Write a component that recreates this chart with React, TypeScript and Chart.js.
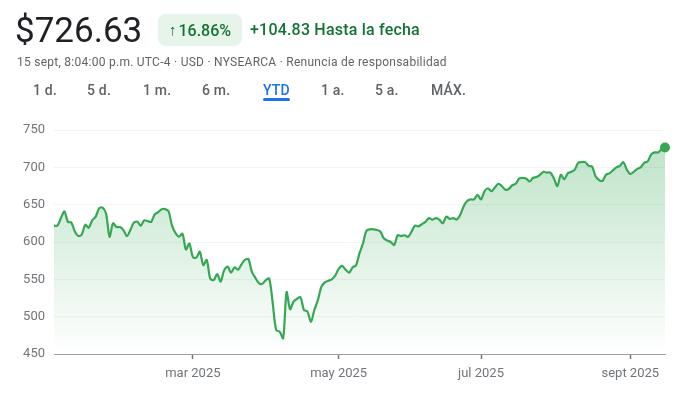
import React, { useEffect, useRef } from "react";
import { Chart, registerables } from "chart.js";

Chart.register(...registerables);

// Daily closes, YTD 2025 (index 0 = previous close)
const closes: number[] = [
  621.8, 622, 632, 641, 627, 626, 614, 608, 610, 623,
  619, 629, 634, 645, 646, 638, 607, 625, 620, 620,
  616, 608, 616, 626, 627, 622, 629, 628, 627, 637,
  640, 644, 644, 641, 622, 612, 607, 611, 590, 598,
  580, 579, 587, 569, 576, 551, 549, 557, 547, 562,
  567, 559, 566, 563, 570, 576, 577, 560, 552, 545,
  544, 549, 551, 518, 482, 480, 471, 533, 510, 520,
  524, 526, 509, 507, 493, 509, 522, 540, 546, 548,
  550, 555, 564, 568, 563, 559, 566, 569, 585, 598,
  615, 617, 617, 616, 614, 605, 602, 600, 596, 609,
  608, 609, 607, 614, 622, 621, 624, 627, 632, 630,
  632, 630, 625, 634, 631, 632, 630, 636, 648, 655,
  657, 657, 663, 657, 668, 672, 668, 673, 678, 675,
  670, 671, 676, 678, 685, 686, 685, 681, 686, 687,
  690, 694, 693, 693, 685, 675, 690, 684, 692, 694,
  697, 706, 707, 707, 702, 701, 688, 683, 682, 690,
  692, 696, 700, 702, 707, 697, 691, 694, 698, 700,
  706, 708, 717, 720, 720, 724, 726.63,
];

const monthTickIndex: number[] = [40, 82, 123, 166];
const monthTickLabels: string[] = ["mar 2025", "may 2025", "jul 2025", "sept 2025"];
const yTicks: number[] = [450, 500, 550, 600, 650, 700, 750];

const priceText = "$726.63";
const changePctText = "16.86%";
const changeAbsText = "+104.83 Hasta la fecha";
const subtitleText = "15 sept, 8:04:00 p.m. UTC-4 · USD · NYSEARCA · Renuncia de responsabilidad";
const tabs: string[] = ["1 d.", "5 d.", "1 m.", "6 m.", "YTD", "1 a.", "5 a.", "MÁX."];
const tabLeft: number[] = [33, 87, 143, 202, 263, 321, 375, 431];
const activeTab = "YTD";

const FONT = "Roboto, 'Noto Sans', Arial, sans-serif";
const GREEN = "#34a853";

export default function App() {
  const canvasRef = useRef<HTMLCanvasElement | null>(null);

  useEffect(() => {
    document.body.style.margin = "0";
    const canvas = canvasRef.current;
    if (!canvas) return;
    const data = closes.map((v, i) => ({ x: i, y: v }));
    const last = closes.length - 1;
    const chart = new Chart(canvas, {
      type: "line",
      data: {
        datasets: [
          {
            data,
            borderColor: GREEN,
            borderWidth: 2.2,
            tension: 0.3,
            fill: "start",
            clip: false as any,
            backgroundColor: (ctx: any) => {
              const ch = ctx.chart;
              const area = ch.chartArea;
              if (!area) return "rgba(52,168,83,0.2)";
              const g = ch.ctx.createLinearGradient(0, area.top, 0, area.bottom);
              g.addColorStop(0, "rgba(52,168,83,0.34)");
              g.addColorStop(1, "rgba(52,168,83,0)");
              return g;
            },
            pointRadius: (ctx: any) => (ctx.dataIndex === last ? 5 : 0),
            pointBackgroundColor: GREEN,
            pointBorderColor: GREEN,
            pointBorderWidth: 0,
          },
        ],
      },
      options: {
        responsive: false,
        animation: false,
        layout: { padding: { left: 0, right: 33, top: 130, bottom: 0 } },
        plugins: { legend: { display: false }, tooltip: { enabled: false } },
        scales: {
          x: {
            type: "linear",
            min: 0,
            max: last,
            afterBuildTicks: (s: any) => {
              s.ticks = monthTickIndex.map((v) => ({ value: v }));
            },
            afterFit: (s: any) => {
              s.height = 41;
            },
            ticks: {
              autoSkip: false,
              maxRotation: 0,
              padding: 7,
              color: "#70757a",
              font: { family: FONT, size: 13 },
              callback: (v: any) => {
                const k = monthTickIndex.indexOf(Number(v));
                return k >= 0 ? monthTickLabels[k] : "";
              },
            },
            grid: {
              drawOnChartArea: false,
              drawTicks: true,
              tickLength: 5,
              tickWidth: 1.5,
              tickColor: "#70757a",
            },
            border: { display: true, color: "#9aa0a6", width: 1 },
          },
          y: {
            min: 450,
            max: 750,
            afterBuildTicks: (s: any) => {
              s.ticks = yTicks.map((v) => ({ value: v }));
            },
            afterFit: (s: any) => {
              s.width = 54;
            },
            ticks: {
              padding: 9,
              color: "#70757a",
              font: { family: FONT, size: 13 },
            },
            grid: { color: "#f1f3f4", drawTicks: false, lineWidth: 1 },
            border: { display: false },
          },
        },
      },
    } as any);
    return () => chart.destroy();
  }, []);

  return (
    <div style={{ position: "fixed", left: 0, top: 0, width: 698, height: 395, background: "#fff", fontFamily: FONT, overflow: "hidden" }}>
      <canvas ref={canvasRef} width={698} height={395} style={{ position: "absolute", left: 0, top: 0, width: 698, height: 395 }} />
      <div style={{ position: "absolute", left: 15, top: 9, fontSize: 35, color: "#202124", lineHeight: "44px" }}>{priceText}</div>
      <div style={{ position: "absolute", left: 158, top: 14, width: 84, height: 32, borderRadius: 8, background: "#e6f4ea", color: "#137333", display: "flex", alignItems: "center", justifyContent: "center", fontSize: 16, fontWeight: 500 }}>
        <span style={{ fontSize: 15, marginRight: 2 }}>↑</span>{changePctText}
      </div>
      <div style={{ position: "absolute", left: 250, top: 19, fontSize: 16, fontWeight: 500, color: "#137333", lineHeight: "22px", letterSpacing: 0.2 }}>{changeAbsText}</div>
      <div style={{ position: "absolute", left: 17, top: 54, fontSize: 12, color: "#5f6368", lineHeight: "16px", letterSpacing: 0.26 }}>{subtitleText}</div>
      {tabs.map((t, i) => (
        <div key={t} style={{ position: "absolute", left: tabLeft[i], top: 81, fontSize: 14, fontWeight: 500, lineHeight: "18px", letterSpacing: 0.2, color: t === activeTab ? "#1a73e8" : "#5f6368" }}>
          {t}
          {t === activeTab ? (
            <div style={{ position: "absolute", left: 0, right: 0, top: 17, height: 3, borderRadius: 2, background: "#1a73e8" }} />
          ) : null}
        </div>
      ))}
    </div>
  );
}
